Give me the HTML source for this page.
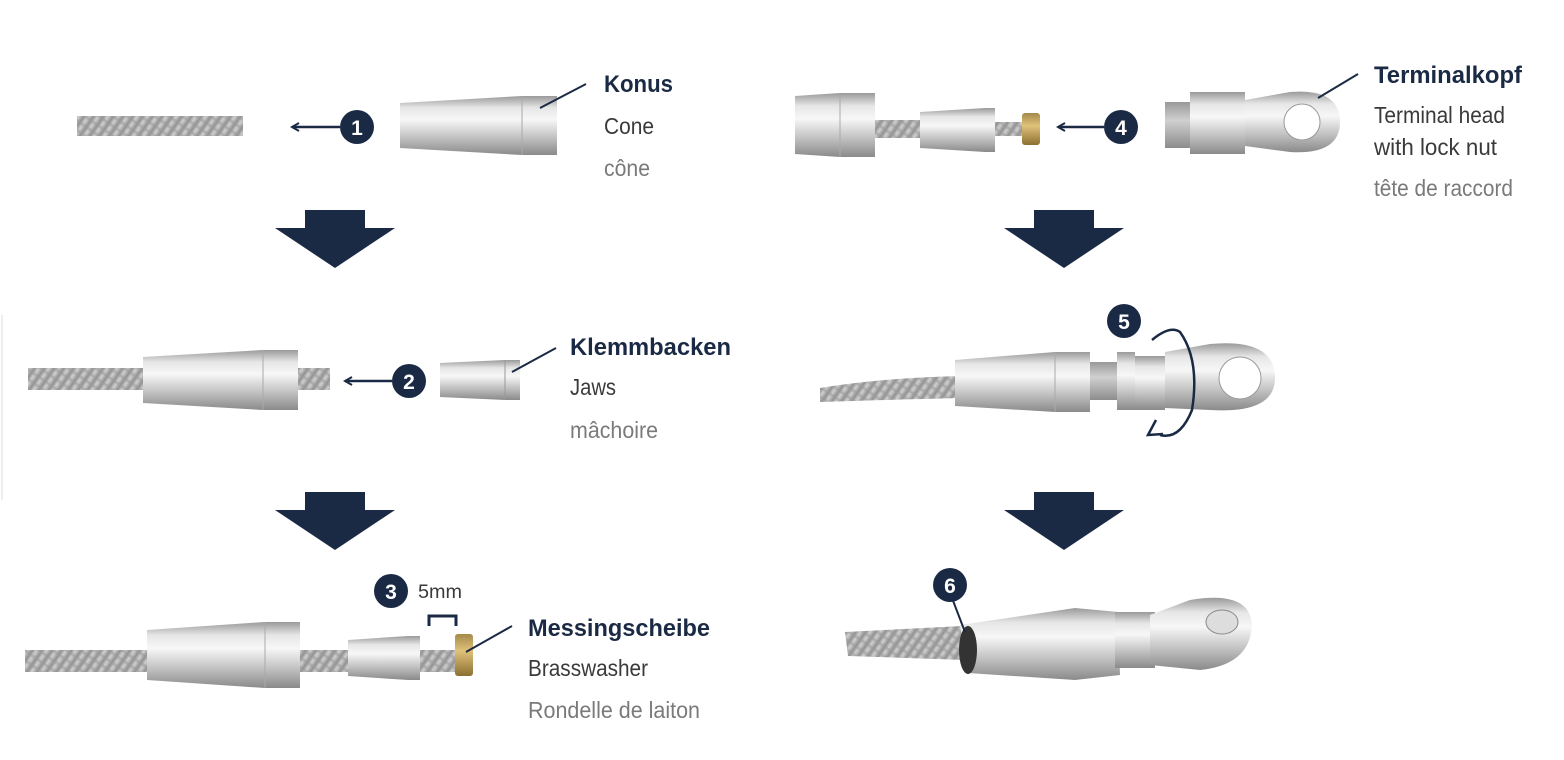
<!DOCTYPE html>
<html><head><meta charset="utf-8"><style>
html,body{margin:0;padding:0;background:#fff;width:1564px;height:760px;overflow:hidden}
svg{display:block}
.b{font-family:"Liberation Sans",sans-serif;font-weight:bold;font-size:24px;fill:#1b2a44}
.r{font-family:"Liberation Sans",sans-serif;font-size:23px;fill:#3a3a3a}
.l{font-family:"Liberation Sans",sans-serif;font-size:23px;fill:#7a7a7a}
.n{font-family:"Liberation Sans",sans-serif;font-weight:bold;font-size:21px;fill:#fff}
</style></head><body>
<svg width="1564" height="760" viewBox="0 0 1564 760" xmlns="http://www.w3.org/2000/svg">
<defs>
<linearGradient id="m" x1="0" y1="0" x2="0" y2="1">
<stop offset="0" stop-color="#9a9a9a"/><stop offset="0.2" stop-color="#e6e6e6"/><stop offset="0.4" stop-color="#f7f7f7"/><stop offset="0.7" stop-color="#c2c2c2"/><stop offset="1" stop-color="#8a8a8a"/>
</linearGradient>
<linearGradient id="c" x1="0" y1="0" x2="0" y2="1">
<stop offset="0" stop-color="#999"/><stop offset="0.4" stop-color="#d0d0d0"/><stop offset="1" stop-color="#8c8c8c"/>
</linearGradient>
<linearGradient id="br" x1="0" y1="0" x2="0" y2="1">
<stop offset="0" stop-color="#a4894a"/><stop offset="0.4" stop-color="#e0c27a"/><stop offset="1" stop-color="#8c6f30"/>
</linearGradient>
<pattern id="tw" width="8" height="8" patternUnits="userSpaceOnUse" patternTransform="rotate(-55)">
<rect width="8" height="8" fill="url(#c)"/><rect width="3" height="8" fill="#9a9a9a" opacity="0.5"/>
</pattern>
<marker id="ah" markerWidth="10" markerHeight="10" refX="8" refY="5" orient="auto" markerUnits="userSpaceOnUse"><path d="M1,1 L8,5 L1,9" fill="none" stroke="#1b2a44" stroke-width="2"/></marker>
</defs>
<line x1="2" y1="315" x2="2" y2="500" stroke="#ddd" stroke-width="1"/>
<g fill="#1b2a44">
<path d="M305,210 H365 V228 H395 L335,268 L275,228 H305 Z"/>
<path d="M305,492 H365 V510 H395 L335,550 L275,510 H305 Z"/>
<path d="M1034,210 H1094 V228 H1124 L1064,268 L1004,228 H1034 Z"/>
<path d="M1034,492 H1094 V510 H1124 L1064,550 L1004,510 H1034 Z"/>
</g>
<!-- row1 left -->
<rect x="77" y="116" width="166" height="20" fill="url(#tw)"/>
<path d="M400,103 L522,96 L557,96 L557,155 L522,155 L400,148 Z" fill="url(#m)"/>
<line x1="522" y1="96" x2="522" y2="155" stroke="#aaa"/>
<line x1="540" y1="108" x2="586" y2="84" stroke="#1b2a44" stroke-width="2"/>
<text class="b" x="604" y="92" textLength="69" lengthAdjust="spacingAndGlyphs">Konus</text>
<text class="r" x="604" y="134" textLength="50" lengthAdjust="spacingAndGlyphs">Cone</text>
<text class="l" x="604" y="176" textLength="46" lengthAdjust="spacingAndGlyphs">cône</text>
<line x1="340" y1="127" x2="292" y2="127" stroke="#1b2a44" stroke-width="2.5" marker-end="url(#ah)"/>
<circle cx="357" cy="127" r="17" fill="#1b2a44"/><text class="n" x="357" y="135" text-anchor="middle">1</text>
<!-- row2 left -->
<rect x="28" y="368" width="302" height="22" fill="url(#tw)"/>
<path d="M143,357 L263,350 L298,350 L298,410 L263,410 L143,403 Z" fill="url(#m)"/>
<line x1="263" y1="350" x2="263" y2="410" stroke="#aaa"/>
<path d="M440,363 L505,360 L520,360 L520,400 L505,400 L440,397 Z" fill="url(#m)"/>
<line x1="505" y1="360" x2="505" y2="400" stroke="#999"/>
<line x1="512" y1="372" x2="556" y2="348" stroke="#1b2a44" stroke-width="2"/>
<text class="b" x="570" y="355" textLength="161" lengthAdjust="spacingAndGlyphs">Klemmbacken</text>
<text class="r" x="570" y="395" textLength="46" lengthAdjust="spacingAndGlyphs">Jaws</text>
<text class="l" x="570" y="438" textLength="88" lengthAdjust="spacingAndGlyphs">mâchoire</text>
<line x1="392" y1="381" x2="345" y2="381" stroke="#1b2a44" stroke-width="2.5" marker-end="url(#ah)"/>
<circle cx="409" cy="381" r="17" fill="#1b2a44"/><text class="n" x="409" y="389" text-anchor="middle">2</text>
<!-- row3 left -->
<rect x="25" y="650" width="440" height="22" fill="url(#tw)"/>
<path d="M147,630 L265,622 L300,622 L300,688 L265,688 L147,680 Z" fill="url(#m)"/>
<line x1="265" y1="622" x2="265" y2="688" stroke="#aaa"/>
<path d="M348,640 L408,636 L420,636 L420,680 L408,680 L348,676 Z" fill="url(#m)"/>
<rect x="455" y="634" width="18" height="42" rx="3" fill="url(#br)"/>
<path d="M429,626 V616 H456 V626" fill="none" stroke="#1b2a44" stroke-width="3"/>
<text class="r" x="418" y="598" style="font-size:19px" textLength="44" lengthAdjust="spacingAndGlyphs">5mm</text>
<line x1="466" y1="652" x2="512" y2="626" stroke="#1b2a44" stroke-width="2"/>
<text class="b" x="528" y="636" textLength="182" lengthAdjust="spacingAndGlyphs">Messingscheibe</text>
<text class="r" x="528" y="676" textLength="120" lengthAdjust="spacingAndGlyphs">Brasswasher</text>
<text class="l" x="528" y="718" textLength="172" lengthAdjust="spacingAndGlyphs">Rondelle de laiton</text>
<circle cx="391" cy="591" r="17" fill="#1b2a44"/><text class="n" x="391" y="599" text-anchor="middle">3</text>
<!-- row1 right -->
<rect x="870" y="120" width="60" height="18" fill="url(#tw)"/>
<rect x="995" y="122" width="30" height="14" fill="url(#tw)"/>
<path d="M795,96 L840,93 L875,93 L875,157 L840,157 L795,154 Z" fill="url(#m)"/>
<line x1="840" y1="93" x2="840" y2="157" stroke="#aaa"/>
<path d="M920,112 L985,108 L995,108 L995,152 L985,152 L920,148 Z" fill="url(#m)"/>
<rect x="1022" y="113" width="18" height="32" rx="3" fill="url(#br)"/>
<rect x="1165" y="102" width="28" height="46" fill="url(#c)"/>
<rect x="1190" y="92" width="55" height="62" fill="url(#m)"/>
<path d="M1245,100 L1290,92 Q1340,88 1340,122 Q1340,155 1290,152 L1245,146 Z" fill="url(#m)"/>
<circle cx="1302" cy="122" r="18" fill="#fff" stroke="#999"/>
<line x1="1318" y1="98" x2="1358" y2="74" stroke="#1b2a44" stroke-width="2"/>
<text class="b" x="1374" y="83" textLength="148" lengthAdjust="spacingAndGlyphs">Terminalkopf</text>
<text class="r" x="1374" y="123" textLength="131" lengthAdjust="spacingAndGlyphs">Terminal head</text>
<text class="r" x="1374" y="155" textLength="123" lengthAdjust="spacingAndGlyphs">with lock nut</text>
<text class="l" x="1374" y="196" textLength="139" lengthAdjust="spacingAndGlyphs">tête de raccord</text>
<line x1="1104" y1="127" x2="1058" y2="127" stroke="#1b2a44" stroke-width="2.5" marker-end="url(#ah)"/>
<circle cx="1121" cy="127" r="17" fill="#1b2a44"/><text class="n" x="1121" y="135" text-anchor="middle">4</text>
<!-- row2 right -->
<path d="M820,388 Q880,378 960,376 L960,398 Q880,400 820,402 Z" fill="url(#tw)"/>
<path d="M955,360 L1055,352 L1090,352 L1090,412 L1055,412 L955,406 Z" fill="url(#m)"/>
<line x1="1055" y1="352" x2="1055" y2="412" stroke="#aaa"/>
<rect x="1090" y="362" width="30" height="38" fill="url(#c)"/>
<rect x="1117" y="352" width="18" height="58" fill="url(#m)"/>
<rect x="1135" y="356" width="30" height="54" fill="url(#m)"/>
<path d="M1165,352 L1210,344 Q1275,338 1275,378 Q1275,414 1210,410 L1165,408 Z" fill="url(#m)"/>
<circle cx="1240" cy="378" r="21" fill="#fff" stroke="#999"/>
<path d="M1152,340 Q1170,325 1180,332 Q1200,360 1192,410 Q1180,440 1160,435" fill="none" stroke="#1b2a44" stroke-width="2.5"/>
<path d="M1156,420 L1148,435 L1163,434" fill="none" stroke="#1b2a44" stroke-width="2.5"/>
<circle cx="1124" cy="321" r="17" fill="#1b2a44"/><text class="n" x="1124" y="329" text-anchor="middle">5</text>
<!-- row3 right -->
<path d="M845,632 L962,626 L965,660 L848,656 Z" fill="url(#tw)"/>
<path d="M960,625 L1075,608 L1118,612 L1120,675 L1075,680 L968,673 Z" fill="url(#m)"/>
<ellipse cx="968" cy="650" rx="9" ry="24" fill="#333"/>
<rect x="1115" y="612" width="40" height="56" fill="url(#m)"/>
<path d="M1150,615 L1190,600 Q1250,590 1252,625 Q1250,665 1200,670 L1150,665 Z" fill="url(#m)"/>
<ellipse cx="1222" cy="622" rx="16" ry="12" fill="#ddd" stroke="#888"/>
<line x1="952" y1="598" x2="965" y2="632" stroke="#1b2a44" stroke-width="2"/>
<circle cx="950" cy="585" r="17" fill="#1b2a44"/><text class="n" x="950" y="593" text-anchor="middle">6</text>
</svg>
</body></html>
